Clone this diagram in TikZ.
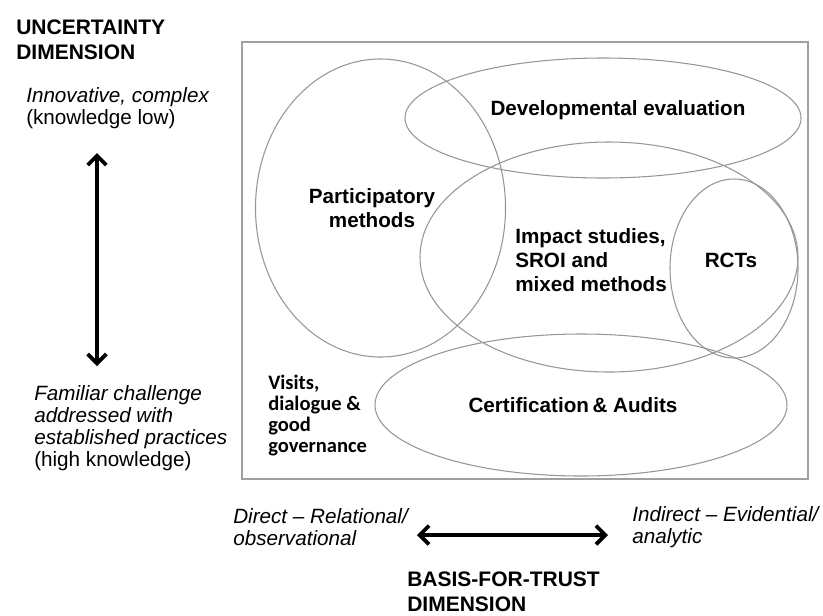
\documentclass[tikz,border=0pt]{standalone}
\usepackage{fontspec}
\setmainfont{Liberation Sans}
\newfontfamily\carlito{Carlito}
\usetikzlibrary{arrows.meta}
\definecolor{ringgray}{RGB}{150,150,150}
\definecolor{framegray}{RGB}{160,160,160}

\begin{document}
\begin{tikzpicture}[
  x=0.75pt, y=-0.75pt,
  ring/.style={draw=ringgray, line width=0.8pt},
  frame/.style={draw=framegray, line width=1.2pt},
  method/.style={font=\fontsize{15.5}{18}\selectfont\bfseries,
                 align=center, inner sep=0pt},
  visits/.style={font=\carlito\fontsize{15.4}{15.75}\selectfont\bfseries,
                 align=left, anchor=west, inner sep=0pt},
  pole/.style={font=\fontsize{15.5}{16.5}\selectfont\itshape,
               align=left, anchor=west, inner sep=0pt},
  dimhead/.style={font=\fontsize{15.75}{18.75}\selectfont\bfseries,
                  align=left, anchor=west, inner sep=0pt},
  arr/.style={{Straight Barb[length=7pt,width=14pt]}-{Straight Barb[length=7pt,width=14pt]},
              line width=2.8pt}
]
  \useasboundingbox (0,0) rectangle (823,615);

  % vertical axis
  \node[dimhead] (unc)   at (16,40)  {UNCERTAINTY\\DIMENSION};
  \node[pole]    (innov) at (26,108.5) {Innovative, complex\\\upshape(knowledge low)};
  \node[pole]    (famil) at (34,428) {Familiar challenge\\addressed with\\established practices\\\upshape(high knowledge)};
  \coordinate (utop) at (97,153);
  \coordinate (ubot) at (97,366);
  \draw[arr] (utop) -- (ubot);

  % field of methods
  \draw[frame] (242,42) rectangle (808,479);
  \draw[ring] (380.5,208) ellipse [x radius=125, y radius=149];
  \draw[ring] (603,118)   ellipse [x radius=198, y radius=60];
  \draw[ring] (609,257)   ellipse [x radius=189, y radius=115];
  \draw[ring] (734,268.5) ellipse [x radius=64,  y radius=89.5];
  \draw[ring] (581,405)   ellipse [x radius=206, y radius=71];

  \node[method] (dev)    at (618,110) {Developmental evaluation};
  \node[method] (part)   at (372,208) {Participatory\\methods};
  \node[method, align=left, anchor=west] (impact) at (515,260) {Impact studies,\\SROI and\\mixed methods};
  \node[method] (rct)    at (731,260) {RCTs};
  \node[method] (cert)   at (573,405) {Certification\,\& Audits};
  \node[visits] (visit)  at (268,415.5) {Visits,\\dialogue \&\\good\\governance};

  % horizontal axis
  \node[pole] (direct)   at (233,527) {Direct – Relational/\\observational};
  \node[pole] (indirect) at (632,527) {Indirect – Evidential/\\analytic};
  \coordinate (hleft)  at (417,535);
  \coordinate (hright) at (608,535);
  \draw[arr] (hleft) -- (hright);
  \node[dimhead] (trust) at (407,592) {BASIS-FOR-TRUST\\DIMENSION};
\end{tikzpicture}
\end{document}
